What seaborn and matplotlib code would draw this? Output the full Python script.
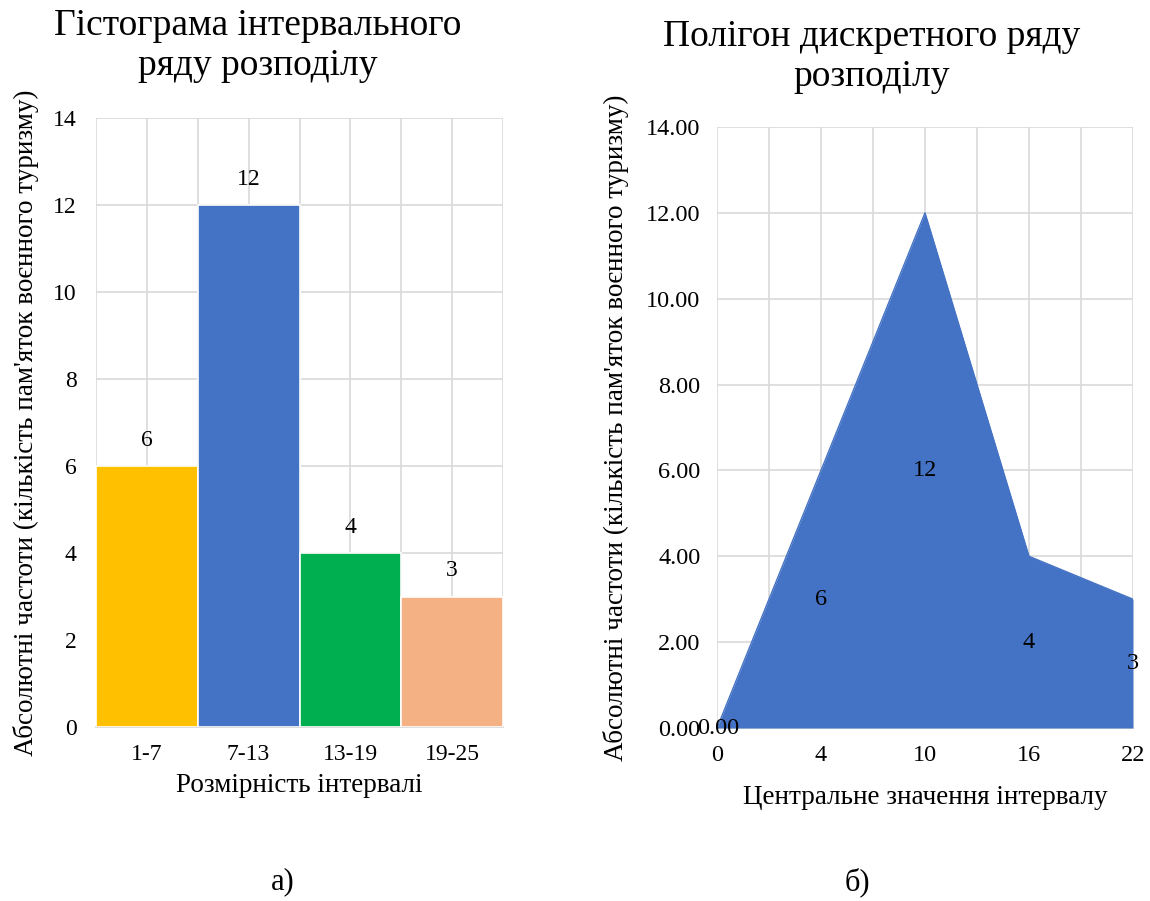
import numpy as np
import pandas as pd
import matplotlib
matplotlib.use("Agg")
import matplotlib.pyplot as plt
import seaborn as sns

# Histogram data (interval series)
intervals = ["1-7", "7-13", "13-19", "19-25"]
freq = [6, 12, 4, 3]
bar_colors = ["#FFC000", "#4472C4", "#00B050", "#F4B183"]

# Polygon data (discrete series)
centers = ["0", "4", "10", "16", "22"]
poly_freq = [0, 6, 12, 4, 3]
poly_labels = ["0.00", "6", "12", "4", "3"]

sns.set_theme(style="white")
plt.rcParams["font.family"] = ["Liberation Serif", "DejaVu Serif"]
plt.rcParams["text.color"] = "black"
plt.rcParams["axes.labelcolor"] = "black"

fig = plt.figure(figsize=(11.5, 9.01), dpi=100)
grid_c = "#D9D9D9"
W, H = 1150, 901


def axes_px(x0, x1, ytop, ybot):
    return fig.add_axes([x0 / W, 1 - ybot / H, (x1 - x0) / W, (ybot - ytop) / H])


# ---- Left: histogram ----
ax1 = axes_px(96, 503, 118, 727)
df1 = pd.DataFrame({"interval": intervals, "freq": freq})
sns.barplot(data=df1, x="interval", y="freq", hue="interval", palette=bar_colors,
            width=1.0, legend=False, ax=ax1, edgecolor="white", linewidth=1.2,
            saturation=1.0, zorder=3)
ax1.set_xlim(-0.5, 3.5)
ax1.set_ylim(0, 14)
ax1.set_yticks(np.arange(0, 15, 2))
ax1.set_xticks(np.arange(-0.5, 3.6, 0.5), minor=True)
ax1.grid(True, which="major", axis="y", color=grid_c, lw=1.2, zorder=0)
ax1.grid(True, which="both", axis="x", color=grid_c, lw=1.2, zorder=0)
for s in ["top", "right", "left"]:
    ax1.spines[s].set_visible(False)
ax1.spines["bottom"].set_color(grid_c)
ax1.tick_params(axis="both", which="both", length=0, labelsize=17, pad=14, colors="black")
ax1.tick_params(axis="x", pad=12)
for i, v in enumerate(freq):
    ax1.text(i, v + 0.35, str(v), ha="center", va="bottom", fontsize=17)
ax1.set_xlabel("Розмірність інтервалі", fontsize=19.5, labelpad=6)
ax1.set_ylabel("Абсолютні частоти (кількість пам'яток воєнного туризму)", fontsize=19.5, labelpad=10)
fig.text(258 / W, 1 - 46 / H, "Гістограма інтервального\nряду розподілу", ha="center",
         va="center", fontsize=27, linespacing=1.2)

# ---- Right: polygon (area) ----
ax2 = axes_px(717, 1133, 127, 728)
xpos = np.arange(len(centers))
df2 = pd.DataFrame({"pos": xpos, "freq": poly_freq})
sns.lineplot(data=df2, x="pos", y="freq", color="#4472C4", lw=1, ax=ax2, zorder=3)
ax2.fill_between(df2["pos"], df2["freq"], color="#4472C4", zorder=3, lw=0)
ax2.set_xlim(0, 4)
ax2.set_ylim(0, 14)
ax2.set_yticks(np.arange(0, 15, 2))
ax2.set_yticklabels([f"{v:.2f}" for v in np.arange(0, 15, 2)])
ax2.set_xticks(xpos)
ax2.set_xticklabels(centers)
ax2.set_xticks(np.arange(0, 4.01, 0.5), minor=True)
ax2.grid(True, which="major", axis="y", color=grid_c, lw=1.2, zorder=0)
ax2.grid(True, which="both", axis="x", color=grid_c, lw=1.2, zorder=0)
for s in ["top", "right", "left"]:
    ax2.spines[s].set_visible(False)
ax2.spines["bottom"].set_color(grid_c)
ax2.tick_params(axis="both", which="both", length=0, labelsize=17.5, colors="black")
ax2.tick_params(axis="y", pad=12)
ax2.tick_params(axis="x", pad=12)
for i, (v, lab) in enumerate(zip(poly_freq, poly_labels)):
    ax2.text(i + (0.01 if i == 0 else 0), v / 2, lab, ha="center", va="center",
             fontsize=17.5, zorder=5)
ax2.set_xlabel("Центральне значення інтервалу", fontsize=19.5, labelpad=14)
ax2.set_ylabel("Абсолютні частоти (кількість пам'яток воєнного туризму)", fontsize=19.5, labelpad=12)
fig.text(872 / W, 1 - 57 / H, "Полігон дискретного ряду\nрозподілу", ha="center",
         va="center", fontsize=27, linespacing=1.2)

fig.text(283 / W, 1 - 882 / H, "а)", ha="center", va="center", fontsize=22)
fig.text(857 / W, 1 - 882 / H, "б)", ha="center", va="center", fontsize=22)

fig.savefig("out.png", dpi=100, facecolor="white")
